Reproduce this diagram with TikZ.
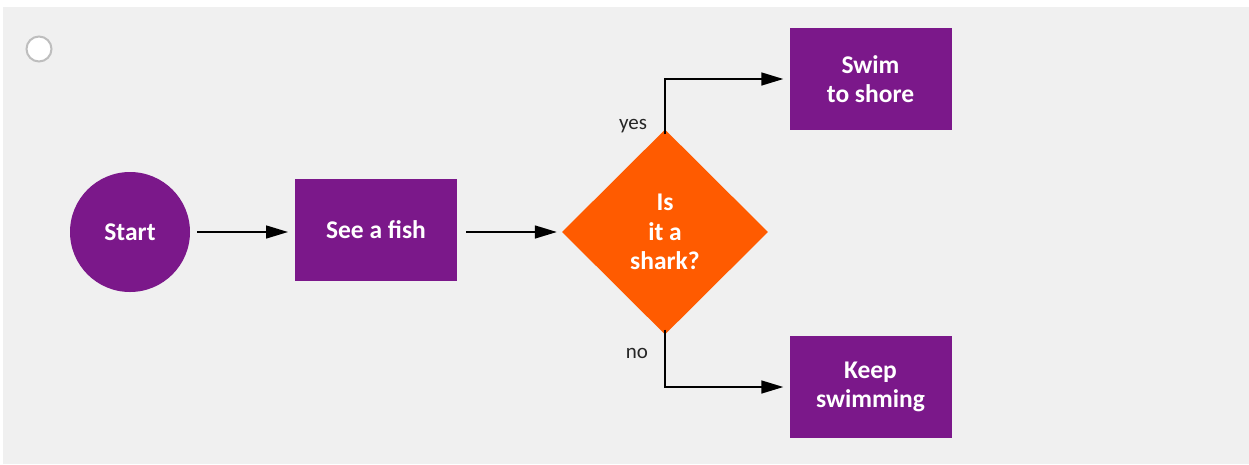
\documentclass[tikz,border=0pt]{standalone}
\usepackage{fontspec}
\setmainfont{Carlito}
\usetikzlibrary{arrows.meta,shapes.geometric}
\definecolor{panel}{RGB}{240,240,240}
\definecolor{purp}{RGB}{123,24,138}
\definecolor{orng}{RGB}{255,91,0}
\definecolor{ring}{RGB}{190,190,190}
\tikzset{
  procbox/.style={fill=purp, draw=none, minimum width=162pt, minimum height=102pt, inner sep=0pt,
    text=white, font=\bfseries\fontsize{25.5}{29.5}\selectfont, align=center},
  startnode/.style={circle, fill=purp, draw=none, minimum size=120pt, inner sep=0pt,
    text=white, font=\bfseries\fontsize{25.5}{29.5}\selectfont},
  decision/.style={diamond, fill=orng, draw=none, minimum width=206pt, minimum height=205pt, inner sep=0pt,
    text=white, font=\bfseries\fontsize{25.5}{29.5}\selectfont, align=center},
  conn/.style={draw=black, line width=1.5pt, -{Triangle[length=22pt,width=13pt]}},
  lbl/.style={font=\fontsize{21}{24}\selectfont, text=black!85}
}
\begin{document}
\begin{tikzpicture}[x=1pt,y=-1pt]
\useasboundingbox (0,0) rectangle (1249,464);
\fill[white] (0,0) rectangle (1249,464);
\fill[panel] (3,7) rectangle (1249,464);
\node[circle, fill=white, draw=ring, line width=2pt, minimum size=25pt, inner sep=0pt] (radio) at (39,49) {};
\node[startnode] (start) at (130,232) {Start};
\node[procbox] (fish) at (376,230) {See a fish};
\node[decision] (shark) at (665,232) {Is\\it a\\shark?};
\node[procbox] (swim) at (870.5,79) {Swim\\to shore};
\node[procbox] (keep) at (870.5,387) {Keep\\swimming};
\coordinate (s1) at (197,232);
\coordinate (s2) at (288,232);
\coordinate (f1) at (466,232);
\draw[conn] (s1) -- (s2);
\draw[conn] (f1) -- ([xshift=-5pt]shark.west);
\draw[conn] ([yshift=-5pt]shark.north) |- ([xshift=-6pt]swim.west);
\draw[conn] ([yshift=5pt]shark.south) |- ([xshift=-6pt]keep.west);
\node[lbl] (yes) at (633,126) {yes};
\node[lbl] (no) at (637,353) {no};
\end{tikzpicture}
\end{document}
